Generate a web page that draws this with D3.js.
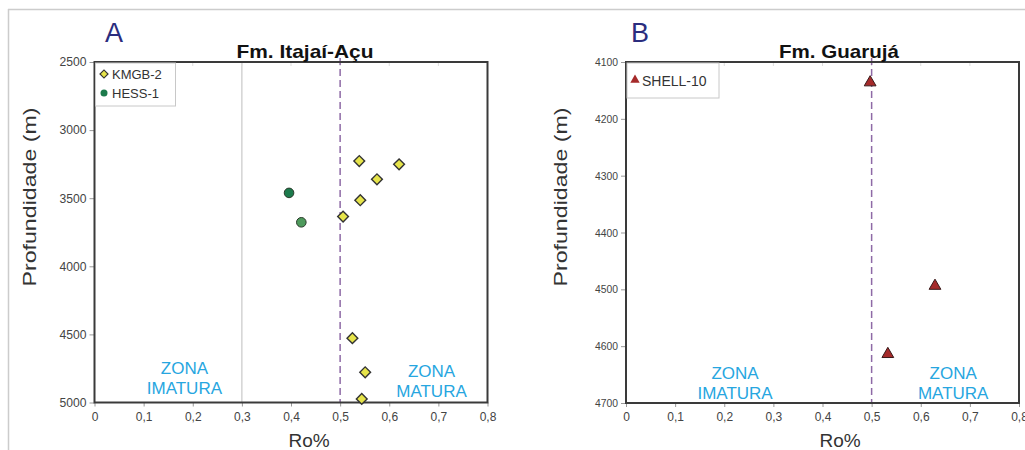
<!DOCTYPE html>
<html><head><meta charset="utf-8">
<script src="https://cdn.jsdelivr.net/npm/d3@7"></script>
<style>body{margin:0;background:#fff}svg{display:block}text{font-family:"Liberation Sans",Arial,sans-serif}</style>
</head><body><svg id="c" width="1025" height="450"></svg>
<script>
// Panel A data (Fm. Itajaí-Açu)
const kmgbRo = [0.539, 0.620, 0.575, 0.541, 0.506, 0.525, 0.551, 0.544];
const kmgbDepth = [3227, 3251, 3361, 3515, 3635, 4528, 4778, 4974];
const hessRo = [0.396, 0.421];
const hessDepth = [3461, 3677];
// Panel B data (Fm. Guarujá)
const shellRo = [0.497, 0.629, 0.533];
const shellDepth = [4136, 4494, 4614];
// Axes
const roTicks = [0, 0.1, 0.2, 0.3, 0.4, 0.5, 0.6, 0.7, 0.8];
const depthTicksA = [2500, 3000, 3500, 4000, 4500, 5000];
const depthTicksB = [4100, 4200, 4300, 4400, 4500, 4600, 4700];
const threshold = 0.5;

const svg = d3.select("#c");
// outer frame
svg.append("line").attr("x1",8).attr("x2",1025).attr("y1",9.5).attr("y2",9.5).attr("stroke","#ccc").attr("stroke-width",1.5);
svg.append("line").attr("x1",8.5).attr("x2",8.5).attr("y1",9).attr("y2",450).attr("stroke","#ccc").attr("stroke-width",1.5);

const fmt = d => d===0 ? "0" : d3.format(".1f")(d).replace(".", ",");

function panel(o){
  const x = d3.scaleLinear().domain([0,0.8]).range([o.x0,o.x1]);
  const y = d3.scaleLinear().domain(o.ydom).range([o.y0,o.y1]);
  const g = svg.append("g");
  if (o.grid) g.append("line").attr("x1",x(0.3)).attr("x2",x(0.3)).attr("y1",o.y0).attr("y2",o.y1).attr("stroke","#c8c8c8").attr("stroke-width",1.2);
  g.selectAll(".tt").data(roTicks.slice(1,-1)).join("line").attr("x1",d=>x(d)).attr("x2",d=>x(d)).attr("y1",o.y0).attr("y2",o.y0+4).attr("stroke","#ddd");
  g.append("line").attr("x1",x(threshold)).attr("x2",x(threshold)).attr("y1",o.y0-4).attr("y2",o.y1).attr("stroke","#8e6aa6").attr("stroke-width",1.5).attr("stroke-dasharray","7,4");
  const xa = g.append("g").attr("transform",`translate(0,${o.y1})`).call(d3.axisBottom(x).tickValues(roTicks).tickFormat(fmt).tickSize(4).tickSizeOuter(0));
  xa.select(".domain").remove();
  xa.selectAll("line").attr("stroke","#999");
  xa.selectAll("text").attr("fill","#444").attr("font-size",12).attr("dy","0.85em").attr("y",8);
  const ya = g.append("g").attr("transform",`translate(${o.x0},0)`).call(d3.axisLeft(y).tickValues(o.yticks).tickFormat(d3.format("d")).tickSize(5).tickSizeOuter(0));
  ya.select(".domain").remove();
  ya.selectAll("line").attr("stroke","#999");
  ya.selectAll("text").attr("fill","#444").attr("font-size",o.ytfs).attr("x",-8).attr("textLength",o.ytl).attr("lengthAdjust","spacingAndGlyphs");
  g.append("rect").attr("x",o.x0).attr("y",o.y0).attr("width",o.x1-o.x0).attr("height",o.y1-o.y0).attr("fill","none").attr("stroke","#3a3a3a").attr("stroke-width",2);
  const zl = (cx, l1, l2, yy) => {
    const t = g.append("text").attr("text-anchor","middle").attr("fill","#27a6df").attr("font-size",17);
    t.append("tspan").attr("x",cx).attr("y",yy).text(l1);
    t.append("tspan").attr("x",cx).attr("y",yy+19.5).text(l2);
  };
  zl(x(o.zi), "ZONA", "IMATURA", o.zy1);
  zl(x(o.zm), "ZONA", "MATURA", o.zy2);
  g.append("text").attr("x",o.lx).attr("y",42).attr("fill","#2b2d7e").attr("font-size",27).text(o.letter);
  g.append("text").attr("x",o.tx).attr("y",58).attr("text-anchor","middle").attr("font-weight","bold").attr("font-size",19).attr("fill","#111").attr("textLength",o.tl).attr("lengthAdjust","spacingAndGlyphs").text(o.title);
  g.append("text").attr("x",o.rx).attr("y",447).attr("text-anchor","middle").attr("font-size",19).attr("fill","#333").text("Ro%");
  g.append("text").attr("transform",`translate(${o.px},197) rotate(-90)`).attr("text-anchor","middle").attr("font-size",18).attr("fill","#333").attr("textLength",179).attr("lengthAdjust","spacingAndGlyphs").text("Profundidade (m)");
  return {x,y,g};
}

const A = panel({x0:94.5,x1:487.5,y0:62,y1:402.5,ydom:[2500,5000],yticks:depthTicksA,grid:true,
  zi:0.183,zm:0.686,zy1:374,zy2:377,letter:"A",lx:105,tx:305,tl:137,title:"Fm. Itajaí-Açu",rx:309,px:36,ytfs:12,ytl:27});
const B = panel({x0:626,x1:1019,y0:62,y1:403,ydom:[4100,4700],yticks:depthTicksB,grid:false,
  zi:0.222,zm:0.666,zy1:379,zy2:379,letter:"B",lx:631,tx:839,tl:120,title:"Fm. Guarujá",rx:840,px:567,ytfs:11,ytl:23});

const diamond = d3.symbol().type(d3.symbolSquare).size(58);
A.g.selectAll(".kmgb").data(kmgbRo).join("path")
  .attr("d",diamond).attr("transform",(d,i)=>`translate(${A.x(d)},${A.y(kmgbDepth[i])}) rotate(45)`)
  .attr("fill","#e6e44a").attr("stroke","#333").attr("stroke-width",1.4);
A.g.selectAll(".hess").data(hessRo).join("circle")
  .attr("cx",d=>A.x(d)).attr("cy",(d,i)=>A.y(hessDepth[i])).attr("r",4.8)
  .attr("fill",(d,i)=>i===0?"#1c7a4c":"#4e9a5c").attr("stroke","#2a3a2a").attr("stroke-width",1);
const tri = d3.symbol().type(d3.symbolTriangle).size(60);
B.g.selectAll(".shell").data(shellRo).join("path")
  .attr("d",tri).attr("transform",(d,i)=>`translate(${B.x(d)},${B.y(shellDepth[i])})`)
  .attr("fill","#a52a2a").attr("stroke","#3a1a1a").attr("stroke-width",1);

const la = A.g.append("g");
la.append("rect").attr("x",95.5).attr("y",63).attr("width",80).attr("height",43).attr("fill","#fff").attr("stroke","#c8c8c8");
la.append("path").attr("d",d3.symbol().type(d3.symbolSquare).size(32)).attr("transform","translate(104,74) rotate(45)").attr("fill","#e6e44a").attr("stroke","#333").attr("stroke-width",1.2);
la.append("text").attr("x",112).attr("y",79).attr("font-size",13).attr("fill","#333").text("KMGB-2");
la.append("circle").attr("cx",104).attr("cy",93).attr("r",3.5).attr("fill","#1c7a4c");
la.append("text").attr("x",112).attr("y",98).attr("font-size",13).attr("fill","#333").text("HESS-1");
const lb = B.g.append("g");
lb.append("rect").attr("x",627).attr("y",63).attr("width",92).attr("height",35).attr("fill","#fff").attr("stroke","#c8c8c8");
lb.append("path").attr("d",d3.symbol().type(d3.symbolTriangle).size(38)).attr("transform","translate(635,80)").attr("fill","#a52a2a");
lb.append("text").attr("x",642).attr("y",85.5).attr("font-size",14).attr("fill","#333").text("SHELL-10");
</script></body></html>
